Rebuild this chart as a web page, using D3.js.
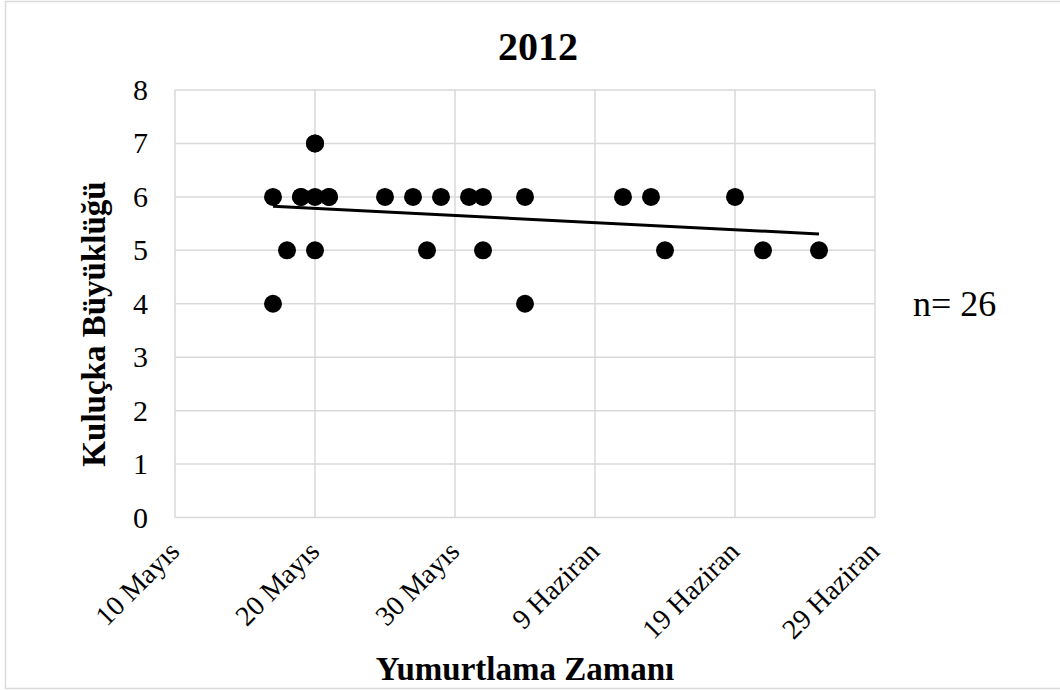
<!DOCTYPE html>
<html>
<head>
<meta charset="utf-8">
<script src="https://cdn.jsdelivr.net/npm/d3@7"></script>
<style>
body { margin: 0; background: #fff; }
text { font-family: "Liberation Serif", "Times New Roman", serif; fill: #000; }
</style>
</head>
<body>
<div id="chart"></div>
<script>
// laying dates as day offset from 10 May, clutch size
var days  = [7, 7, 8, 9, 9, 10, 10, 10, 10, 11, 11, 15, 17, 18, 19, 21, 22, 22, 25, 25, 32, 34, 35, 40, 42, 46]
var sizes = [6, 4, 5, 6, 6, 7, 7, 6, 5, 6, 6, 6, 6, 5, 6, 6, 6, 5, 6, 4, 6, 6, 5, 6, 5, 5]
var xTicks = [0, 10, 20, 30, 40, 50]
var xTickLabels = ["10 Mayıs", "20 Mayıs", "30 Mayıs", "9 Haziran", "19 Haziran", "29 Haziran"]
var yTicks = [0, 1, 2, 3, 4, 5, 6, 7, 8]

var W = 1060, H = 690
var m = {left: 175, right: 875, top: 90, bottom: 517.5}

var svg = d3.select("#chart").append("svg").attr("width", W).attr("height", H)

// outer chart frame
svg.append("rect").attr("x", 5.5).attr("y", 1.5).attr("width", W).attr("height", 687)
    .attr("fill", "#fff").attr("stroke", "#d9d9d9").attr("stroke-width", 1.5)

var x = d3.scaleLinear().domain([0, 50]).range([m.left, m.right])
var y = d3.scaleLinear().domain([0, 8]).range([m.bottom, m.top])

// grid
svg.append("g").selectAll("line").data(xTicks).join("line")
    .attr("x1", d => x(d)).attr("x2", d => x(d))
    .attr("y1", m.top).attr("y2", m.bottom)
    .attr("stroke", "#d9d9d9").attr("stroke-width", 1.5)
svg.append("g").selectAll("line").data(yTicks).join("line")
    .attr("x1", m.left).attr("x2", m.right)
    .attr("y1", d => y(d)).attr("y2", d => y(d))
    .attr("stroke", "#d9d9d9").attr("stroke-width", 1.5)

// y tick labels
svg.append("g").selectAll("text").data(yTicks).join("text")
    .attr("x", 148).attr("y", d => y(d) + 10)
    .attr("text-anchor", "end").attr("font-size", 30)
    .text(d => d)

// x tick labels, rotated
svg.append("g").selectAll("text").data(xTicks).join("text")
    .attr("transform", d => "translate(" + (x(d) + 6) + "," + 553 + ") rotate(-45)")
    .attr("text-anchor", "end").attr("font-size", 28)
    .text((d, i) => xTickLabels[i])

// linear trend (least squares)
var n = days.length
var mx = d3.mean(days), my = d3.mean(sizes)
var sxy = d3.sum(days, (d, i) => (d - mx) * (sizes[i] - my))
var sxx = d3.sum(days, d => (d - mx) * (d - mx))
var slope = sxy / sxx, icpt = my - slope * mx
var x0 = d3.min(days), x1 = d3.max(days)

// points
svg.append("g").selectAll("circle").data(days).join("circle")
    .attr("cx", d => x(d)).attr("cy", (d, i) => y(sizes[i]))
    .attr("r", 9).attr("fill", "#000")

svg.append("line")
    .attr("x1", x(x0)).attr("y1", y(icpt + slope * x0))
    .attr("x2", x(x1)).attr("y2", y(icpt + slope * x1))
    .attr("stroke", "#000").attr("stroke-width", 3)

// titles
svg.append("text").attr("x", 538).attr("y", 60).attr("text-anchor", "middle")
    .attr("font-size", 40).attr("font-weight", "bold").text("2012")
svg.append("text").attr("x", 525).attr("y", 680).attr("text-anchor", "middle")
    .attr("font-size", 33).attr("font-weight", "bold").text("Yumurtlama Zamanı")
svg.append("text").attr("transform", "translate(105,324) rotate(-90)").attr("text-anchor", "middle")
    .attr("font-size", 33).attr("font-weight", "bold").text("Kuluçka Büyüklüğü")
svg.append("text").attr("x", 913).attr("y", 316)
    .attr("font-size", 36).text("n= " + n)
</script>
</body>
</html>
